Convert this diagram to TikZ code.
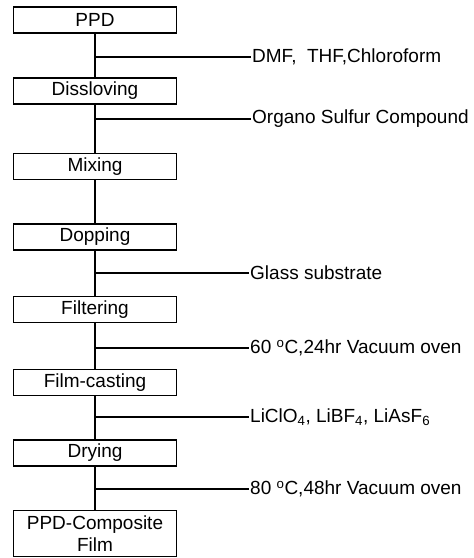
\documentclass[tikz,border=0pt]{standalone}
\usepackage{fontspec}
\setmainfont{Liberation Sans}
\usetikzlibrary{calc}
\tikzset{
  BOX/.style={
    rectangle, draw=black, line width=1.4pt,
    minimum width=163pt, minimum height=26pt,
    inner sep=0pt, align=center,
    font=\fontsize{19}{22}\selectfont
  },
  LNK/.style={line width=1.6pt, line cap=rect},
  TXT/.style={anchor=west, inner sep=2pt, font=\fontsize{19}{22}\selectfont},
}

\begin{document}
\begin{tikzpicture}[x=1pt,y=-1pt]
\useasboundingbox[fill=white] (0,0) rectangle (474,558);

%================ PROCESS STEPS =================
\node[BOX] (ppd)  at (95, 20)    {PPD};
\node[BOX] (diss) at (95, 91)    {Dissloving};
\node[BOX] (mix)  at (95,166.5)  {Mixing};
\node[BOX] (dop)  at (95,237)    {Dopping};
\node[BOX] (filt) at (95,309.5)  {Filtering};
\node[BOX] (cast) at (95,382.5)  {Film-casting};
\node[BOX] (dry)  at (95,453)    {Drying};
\node[BOX,minimum height=46pt] (film) at (95,533.5) {PPD-Composite\\Film};

%================ MAIN LINE =================
\foreach \a/\b in {ppd/diss,diss/mix,mix/dop,dop/filt,filt/cast,cast/dry,dry/film}
  \draw[LNK] (\a) -- (\b);

%================ ADDITIONS =================
\node[TXT] (sol)  at (250, 57) {DMF,\ \ THF,Chloroform};
\node[TXT] (osc)  at (250,119) {Organo Sulfur Compound};
\node[TXT] (gls)  at (248,273) {Glass substrate};
\node[TXT] (vac1) at (248,348) {60 \textsuperscript{o}C,24hr Vacuum oven};
\node[TXT] (salt) at (248,417) {LiClO\textsubscript{4}, LiBF\textsubscript{4}, LiAsF\textsubscript{6}};
\node[TXT] (vac2) at (248,489) {80 \textsuperscript{o}C,48hr Vacuum oven};

\draw[LNK] (ppd |- sol.west)   -- (sol.west);
\draw[LNK] (diss |- osc.west)  -- (osc.west);
\draw[LNK] (dop |- gls.west)   -- (gls.west);
\draw[LNK] (filt |- vac1.west) -- (vac1.west);
\draw[LNK] (cast |- salt.west) -- (salt.west);
\draw[LNK] (dry |- vac2.west)  -- (vac2.west);

\end{tikzpicture}
\end{document}
